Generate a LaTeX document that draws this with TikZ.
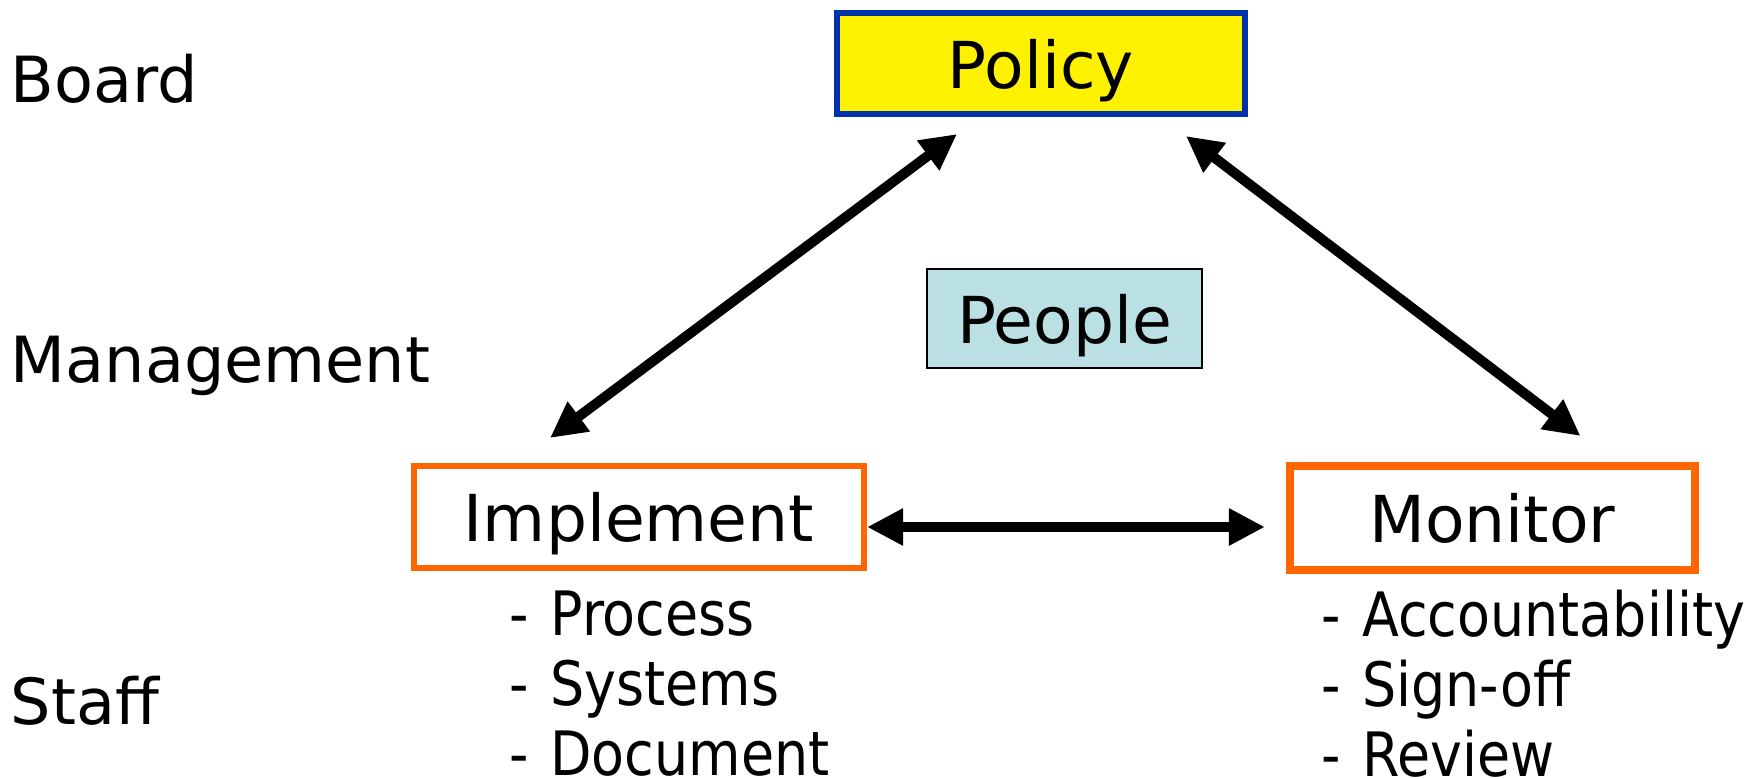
\documentclass[tikz,border=0pt]{standalone}
\usepackage{fontspec}
\setmainfont{DejaVu Sans}
\newfontfamily\listfont{DejaVu Sans}[FakeStretch=0.88]
\usetikzlibrary{arrows.meta,positioning,calc}

\definecolor{policyblue}{RGB}{0,51,170}
\definecolor{boxorange}{RGB}{255,102,0}
\definecolor{peopleblue}{RGB}{187,224,227}

\begin{document}
\begin{tikzpicture}[x=0.01cm,y=-0.01cm,
  every node/.style={font=\fontsize{18.4}{22}\selectfont},
  level/.style={anchor=base west,inner sep=0pt,font=\fontsize{18.1}{22}\selectfont},
  box/.style={text depth=0pt},
  rolebox/.style={box,draw=boxorange,line width=0.06cm,minimum width=4.5cm,minimum height=1.02cm},
  listentry/.style={anchor=base west,inner sep=0pt,font=\listfont\fontsize{17.4}{20}\selectfont},
  biarrow/.style={line width=0.1cm,{Triangle[length=0.36cm,width=0.35cm]}-{Triangle[length=0.36cm,width=0.35cm]}}
]
\useasboundingbox (0,0) rectangle (1754,778);

\node (board) [level] at (10,102) {Board};
\node (management) [level] at (10,382) {Management};
\node (staff) [level] at (10,724) {Staff};

\node (policy) [box,draw=policyblue,fill=yellow,line width=0.06cm,minimum width=4.08cm,minimum height=1.01cm] at (1041,63.5) {Policy};
\node (people) [box,draw=black,fill=peopleblue,line width=0.02cm,minimum width=2.74cm,minimum height=0.98cm] at (1064.5,318.5) {People};
\node (implement) [rolebox] at (639,517) {Implement};
\node (monitor) [rolebox,line width=0.08cm,minimum width=4.05cm,minimum height=1.04cm] at (1492.5,518) {Monitor};

\draw [biarrow] ($(implement.north)+(-89,-25)$) -- ($(policy.south)+(-84,17)$);
\draw [biarrow] ($(policy.south)+(145,19)$) -- ($(monitor.north)+(88,-26)$);
\draw [biarrow] ($(implement.east)+(0,10)$) -- ($(monitor.west)+(-21,9)$);

\foreach \entry [count=\k, evaluate=\k as \dy using 64+70*(\k-1)]
    in {Process,Systems,Document}
  \node (impl\k) [listentry] at ($(implement.south west)+(98,\dy)$) {-\hspace{0.35em}\entry};
\foreach \entry [count=\k, evaluate=\k as \dy using 62+70*(\k-1)]
    in {Accountability,Sign-off,Review}
  \node (mon\k) [listentry] at ($(monitor.south west)+(35,\dy)$) {-\hspace{0.35em}\entry};

\end{tikzpicture}
\end{document}
